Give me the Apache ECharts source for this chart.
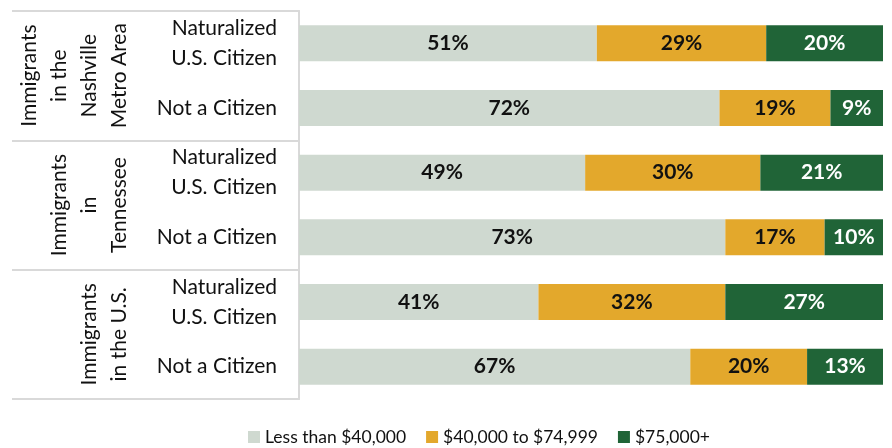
<!DOCTYPE html>
<html>
<head>
<meta charset="utf-8">
<script src="https://cdn.jsdelivr.net/npm/echarts@6/dist/echarts.min.js"></script>
<style>
  html, body { margin: 0; padding: 0; background: #fff; }
  #chart { width: 892px; height: 448px; }
</style>
</head>
<body>
<div id="chart"></div>
<script>
// data
const groups = ["Immigrants\nin the\nNashville\nMetro Area", "Immigrants\nin\nTennessee", "Immigrants\nin the U.S."];
const categories = [
  "Naturalized\nU.S. Citizen", "Not a Citizen",
  "Naturalized\nU.S. Citizen", "Not a Citizen",
  "Naturalized\nU.S. Citizen", "Not a Citizen"
];
const seriesNames = ["Less than $40,000", "$40,000 to $74,999", "$75,000+"];
const lowIncome = [51, 72, 49, 73, 41, 67];
const midIncome = [29, 19, 30, 17, 32, 20];
const highIncome = [20, 9, 21, 10, 27, 13];

const colors = ["#cfd9d0", "#e3a82c", "#206437"];
const labelColors = ["#111", "#111", "#fff"];
const font = "Lato";
const lineCol = "#d9d9d9";

const myChart = echarts.init(document.getElementById("chart"));

const values = [lowIncome, midIncome, highIncome];
const series = seriesNames.map((name, i) => ({
  name: name,
  type: "bar",
  stack: "total",
  barWidth: 36,
  itemStyle: { color: colors[i] },
  label: {
    show: true,
    position: "inside",
    formatter: "{c}%",
    color: labelColors[i],
    fontFamily: font,
    fontWeight: "bold",
    fontSize: 21
  },
  data: values[i]
}));

const options = {
  animation: false,
  color: colors,
  textStyle: { fontFamily: font },
  grid: { left: 299, right: 9, top: 11, bottom: 49 },
  legend: {
    left: 248,
    top: 428,
    padding: 0,
    itemWidth: 12,
    itemHeight: 12,
    itemGap: 20,
    icon: "rect",
    textStyle: { fontFamily: font, fontSize: 17.5, color: "#111" },
    data: seriesNames
  },
  xAxis: {
    type: "value",
    min: 0,
    max: 100,
    show: false
  },
  yAxis: [
    {
      type: "category",
      inverse: true,
      data: categories,
      axisLine: { show: true, lineStyle: { color: lineCol, width: 2 } },
      axisTick: { show: false },
      axisLabel: {
        interval: 0,
        margin: 22,
        fontFamily: font,
        fontSize: 21,
        lineHeight: 30,
        color: "#111",
        align: "right"
      }
    },
    {
      type: "category",
      inverse: true,
      position: "left",
      data: groups,
      axisLine: { show: true, lineStyle: { color: lineCol, width: 2 } },
      axisTick: { show: true, interval: 0, length: 287, lineStyle: { color: lineCol, width: 2 } },
      axisLabel: {
        interval: 0,
        hideOverlap: false,
        rotate: 90,
        margin: 165,
        align: "center",
        verticalAlign: "bottom",
        fontFamily: font,
        fontSize: 21,
        lineHeight: 30,
        color: "#111"
      }
    }
  ],
  series: series
};

myChart.setOption(options);
</script>
</body>
</html>
